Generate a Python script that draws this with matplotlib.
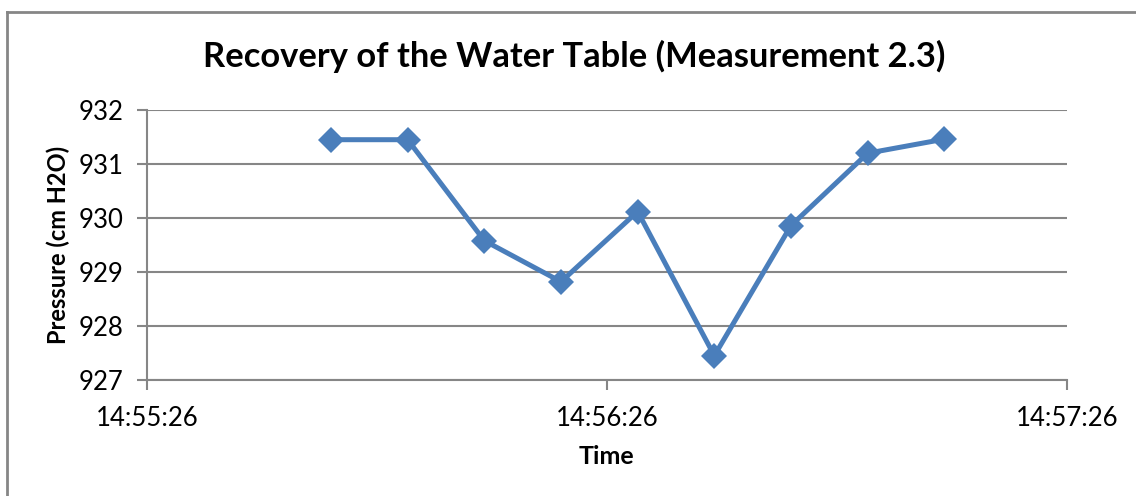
import pandas as pd
import matplotlib
matplotlib.use("Agg")
import matplotlib.pyplot as plt
import matplotlib.dates as mdates
from matplotlib.lines import Line2D

# Data
times = ["14:55:50", "14:56:00", "14:56:10", "14:56:20", "14:56:30",
         "14:56:40", "14:56:50", "14:57:00", "14:57:10"]
pressure = [931.45, 931.45, 929.58, 928.82, 930.12, 927.45, 929.86, 931.20, 931.46]
xtick_labels = ["14:55:26", "14:56:26", "14:57:26"]
yticks = [927, 928, 929, 930, 931, 932]

day = "2013-01-01 "
t = pd.to_datetime([day + s for s in times])
xt = pd.to_datetime([day + s for s in xtick_labels])

plt.rcParams["font.family"] = ["Lato", "DejaVu Sans"]

W, H = 1136, 496
fig = plt.figure(figsize=(W / 100, H / 100), dpi=100)
ax = fig.add_axes([147 / W, 1 - 380 / H, 920 / W, 270 / H])

grid_col = "#868686"
ax.plot(t, pressure, color="#4A7EBB", linewidth=3.6, marker="D",
        markersize=13, markeredgewidth=0, zorder=3)

ax.set_xlim(xt[0], xt[-1])
ax.set_ylim(927, 932)
ax.set_xticks(xt)
ax.xaxis.set_major_formatter(mdates.DateFormatter("%H:%M:%S"))
ax.set_yticks(yticks)

ax.grid(axis="y", color=grid_col, linewidth=1.5)
ax.set_axisbelow(True)
for side in ["top", "right"]:
    ax.spines[side].set_visible(False)
for side in ["left", "bottom"]:
    ax.spines[side].set_color(grid_col)
    ax.spines[side].set_linewidth(1.5)
ax.tick_params(axis="both", colors=grid_col, width=1.5, length=7,
               labelcolor="black", labelsize=18.5)
ax.tick_params(axis="x", pad=12)
ax.tick_params(axis="y", pad=10)

# title centred on the chart frame, not on the plot area
fig.text(574 / W, 1 - 67 / H, "Recovery of the Water Table (Measurement 2.3)",
         fontsize=24.8, fontweight="bold", ha="center", va="baseline")
fig.text(606 / W, 1 - 464 / H, "Time", fontsize=18, fontweight="bold",
         ha="center", va="baseline")
fig.text(58 / W, 1 - 245 / H, "Pressure (cm H2O)", fontsize=17,
         fontweight="bold", rotation=90, ha="center", va="center")

# chart frame (only left and top edges are inside the picture)
fig.add_artist(Line2D([7 / W, 7 / W], [0, 1 - 12 / H],
                      color=grid_col, linewidth=2, transform=fig.transFigure))
fig.add_artist(Line2D([7 / W, 1], [1 - 12 / H, 1 - 12 / H],
                      color=grid_col, linewidth=2, transform=fig.transFigure))

fig.savefig("out.png", dpi=100)
